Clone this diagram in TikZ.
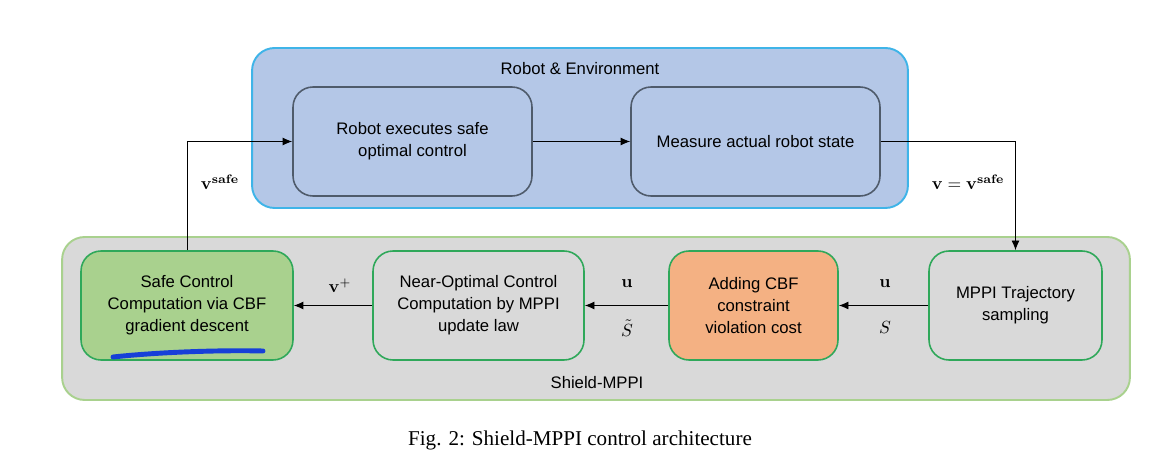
\documentclass[tikz,border=0pt]{standalone}
\usepackage[no-math]{fontspec}
\setmainfont{Liberation Sans}
\newfontfamily\capfont{Liberation Serif}
\usetikzlibrary{arrows.meta}

\definecolor{envfill}{HTML}{B4C7E7}
\definecolor{envline}{HTML}{3FB4E8}
\definecolor{blkline}{HTML}{4F5B6B}
\definecolor{shfill}{HTML}{D9D9D9}
\definecolor{shline}{HTML}{A9D18E}
\definecolor{grnline}{HTML}{2FA85A}
\definecolor{safefill}{HTML}{A9D18E}
\definecolor{cbffill}{HTML}{F4B183}
\definecolor{penblue}{HTML}{1740D8}

\begin{document}
\begin{tikzpicture}[x=0.02cm,y=-0.02cm]
        \tikzstyle{every node}+=[inner sep=0pt, font=\fontsize{9.5}{12.5}\selectfont]
        \tikzstyle{group}=[draw, rounded corners=0.45cm, line width=1.1pt]
        \tikzstyle{blk}=[draw, rounded corners=0.4cm, line width=0.9pt, align=center, minimum height=2.18cm]
        \tikzstyle{flow}=[-{Latex[length=5.5pt,width=4.5pt]}, line width=0.5pt]
        \tikzstyle{lbl}=[font=\fontsize{10}{12}\selectfont]
        \useasboundingbox (0,0) rectangle (1173,469);
        % containers
        \node [group, fill=envfill, draw=envline, minimum width=13.12cm, minimum height=3.2cm] (env) at (580,128) {};
        \node at (580,69) {Robot \& Environment};
        \node [group, fill=shfill, draw=shline, minimum width=21.36cm, minimum height=3.26cm] (shield) at (596,318.5) {};
        \node at (597,383) {Shield-MPPI};
        % top blocks
        \node [blk, fill=envfill, draw=blkline, minimum width=4.78cm] (exec) at (412.5,141.5) {Robot executes safe\\optimal control};
        \node [blk, fill=envfill, draw=blkline, minimum width=4.98cm] (meas) at (755.5,141.5) {Measure actual robot state};
        % bottom blocks
        \node [blk, fill=safefill, draw=grnline, minimum width=4.24cm] (safe) at (187,305.5) {Safe Control\\Computation via CBF\\gradient descent};
        \node [blk, fill=shfill, draw=grnline, minimum width=4.22cm] (near) at (478.5,305.5) {Near-Optimal Control\\Computation by MPPI\\update law};
        \node [blk, fill=cbffill, draw=grnline, minimum width=3.38cm] (cbf) at (753.5,305.5) {Adding CBF\\constraint\\violation cost};
        \node [blk, fill=shfill, draw=grnline, minimum width=3.46cm] (samp) at (1015.5,305.5) {MPPI Trajectory\\sampling};
        % connectors
        \draw [flow] (exec) -- (meas);
        \draw [flow] (meas.east) -| (samp.north);
        \draw [flow] (samp) -- (cbf);
        \draw [flow] (cbf) -- (near);
        \draw [flow] (near) -- (safe);
        \draw [flow] (safe.north) |- (exec.west);
        \node [lbl] at (220,182) {$\mathbf{v}^{\mathbf{safe}}$};
        \node [lbl] at (968,182) {$\mathbf{v}=\mathbf{v}^{\mathbf{safe}}$};
        \node [lbl] at (885,284) {$\mathbf{u}$};
        \node [lbl] at (885,327) {$S$};
        \node [lbl] at (627,284) {$\mathbf{u}$};
        \node [lbl] at (627,328) {$\tilde{S}$};
        \node [lbl] at (340,286) {$\mathbf{v}^{+}$};
        % pen mark
        \draw [penblue, line width=2.8pt, line cap=round] (113,357) .. controls (160,352) and (220,350) .. (263,351);
        \node [font=\capfont\fontsize{12}{14}\selectfont] (cap) at (580,440) {Fig. 2: Shield-MPPI control architecture};
\end{tikzpicture}
\end{document}
